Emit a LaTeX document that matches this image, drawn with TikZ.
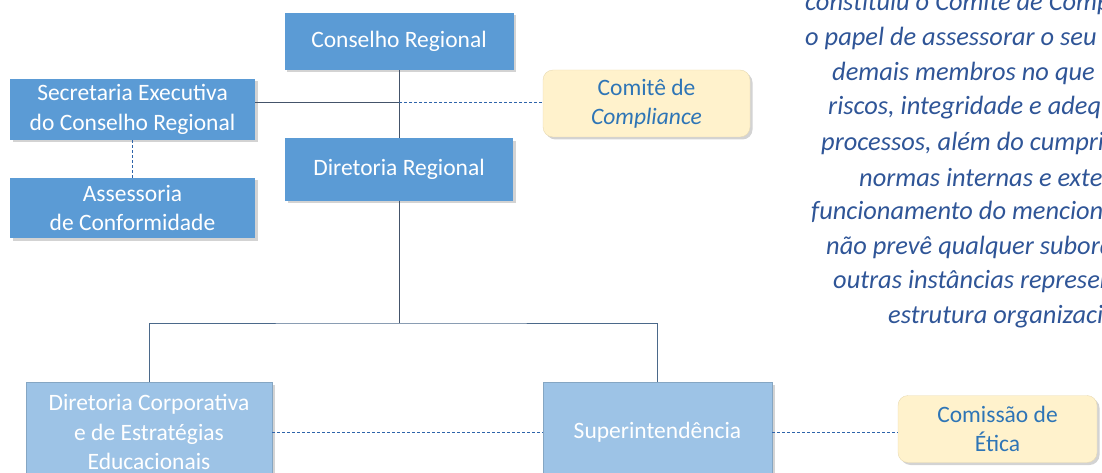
\documentclass[tikz,border=0pt]{standalone}
\usepackage{fontspec}
\setmainfont{Carlito}
\usetikzlibrary{positioning,shadows}

\definecolor{unitblue}{RGB}{91,155,213}
\definecolor{lightblue}{RGB}{157,195,230}
\definecolor{notecream}{RGB}{255,242,204}
\definecolor{creamline}{RGB}{232,218,178}
\definecolor{textblue}{RGB}{46,117,182}
\definecolor{noteblue}{RGB}{47,85,151}
\definecolor{linegray}{RGB}{68,84,106}
\definecolor{dashblue}{RGB}{46,100,170}

\tikzset{
	box/.style={rectangle, inner sep=0pt, align=center, text=white, font=\fontsize{23.5}{29.5}\selectfont, drop shadow={shadow xshift=2.5pt, shadow yshift=-2.5pt, opacity=0.35}},
	unit/.style={box, fill=unitblue},
	subunit/.style={box, fill=lightblue, draw=lightblue!85!black, line width=0.4pt},
	committee/.style={box, fill=notecream, draw=creamline, rounded corners=10pt, text=textblue, minimum width=207pt, minimum height=67pt},
	note/.style={anchor=west, inner sep=0pt, text=noteblue, font=\fontsize{26.4}{30}\selectfont\itshape},
	link/.style={draw=linegray, line width=0.8pt},
	dashlink/.style={draw=dashblue, line width=0.9pt, dash pattern=on 3pt off 2pt}
}

\begin{document}
\begin{tikzpicture}[x=1pt, y=-1pt, on grid]
				\useasboundingbox (0,0) rectangle (1102,473);
				\clip (0,0) rectangle (1102,473);
				
				\node[unit, minimum width=229pt, minimum height=57pt] (conselho) at (399,41.5) {Conselho Regional};
				\node[unit, minimum width=228pt, minimum height=62pt] (diretoria) [below=128pt of conselho] {Diretoria Regional};
				\node[unit, minimum width=245pt, minimum height=61pt] (secretaria) at (132.5,109.5) {Secretaria Executiva\\do Conselho Regional};
				\node[unit, minimum width=245pt, minimum height=60pt] (assessoria) [below=98.5pt of secretaria] {Assessoria\\de Conformidade};
				\node[committee] (comite) at (646.5,103.5) {Comitê de\\\textit{Compliance}};
				\node[subunit, minimum width=246pt, minimum height=100pt] (dircorp) at (149,432) {Diretoria Corporativa\\e de Estratégias\\Educacionais};
				\node[subunit, minimum width=229pt, minimum height=100pt] (super) [right=508.5pt of dircorp] {Superintendência};
				\node[committee, minimum width=199pt] (comissao) at (997.5,429) {Comissão de\\Ética};
				
				\coordinate (seclink) at (conselho.south |- 0,102);
				\coordinate (bus) at (diretoria.south |- 0,323);
				
				\foreach \x/\y/\t [count=\i] in {805/3/{constituiu o Comitê de Comp}, 805/38/{o papel de assessorar o seu}, 832/73/{demais membros no que}, 828/108/{riscos, integridade e adeq}, 821/143/{processos, além do cumpri}, 859/178/{normas internas e exte}, 811/212/{funcionamento do mencion}, 826/247/{não prevê qualquer subord}, 833/282/{outras instâncias represen}, 888/317/{estrutura organizaci}}
					\node[note] (note\i) at (\x,\y) {\t};
				
				\path[link]
				(conselho) edge (diretoria)
				(diretoria) edge (bus)
				(seclink -| secretaria.east) edge (seclink)
				;
				\draw[link, draw=linegray!70!unitblue] (dircorp.north) |- (bus) -| (super.north);
				
				\path[dashlink]
				(seclink) edge (seclink -| comite.west)
				(secretaria) edge (assessoria)
				(dircorp) edge (super)
				(super.east) edge (super.east -| comissao.west)
				;
			\end{tikzpicture}
\end{document}
